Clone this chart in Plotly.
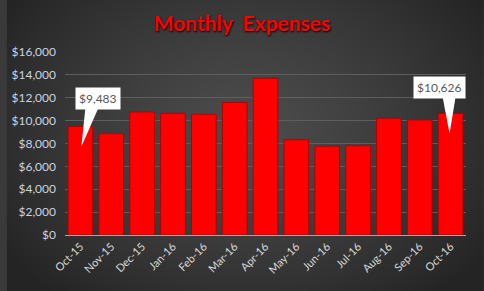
import base64, struct, zlib
import numpy as np
import plotly.graph_objects as go

months = ["Oct-15", "Nov-15", "Dec-15", "Jan-16", "Feb-16", "Mar-16", "Apr-16",
          "May-16", "Jun-16", "Jul-16", "Aug-16", "Sep-16", "Oct-16"]
expenses = [9483, 8850, 10750, 10640, 10560, 11600, 13700,
            8330, 7760, 7800, 10200, 10050, 10626]
y_ticks = [0, 2000, 4000, 6000, 8000, 10000, 12000, 14000, 16000]
y_tick_labels = ["$0", "$2,000", "$4,000", "$6,000", "$8,000", "$10,000",
                 "$12,000", "$14,000", "$16,000"]
y_max = 16000

W, H = 484, 291
L, R, T, B = 59, 18, 52, 56
pw, ph = W - L - R, H - T - B
n = len(months)


def gradient_png(w, h):
    yy, xx = np.mgrid[0:h, 0:w]
    cx, cy = w * 0.5, h * 0.45
    d = np.sqrt(((xx - cx) / (w * 0.62)) ** 2 + ((yy - cy) / (h * 0.75)) ** 2)
    d = np.clip(d, 0, 1)
    v = (76 - (76 - 36) * d ** 1.3).astype(np.uint8)
    img = np.stack([v, v, v], axis=-1)
    raw = b"".join(b"\x00" + img[r].tobytes() for r in range(h))

    def chunk(tag, data):
        c = struct.pack(">I", len(data)) + tag + data
        return c + struct.pack(">I", zlib.crc32(tag + data) & 0xffffffff)

    png = b"\x89PNG\r\n\x1a\n"
    png += chunk(b"IHDR", struct.pack(">IIBBBBB", w, h, 8, 2, 0, 0, 0))
    png += chunk(b"IDAT", zlib.compress(raw, 9))
    png += chunk(b"IEND", b"")
    return "data:image/png;base64," + base64.b64encode(png).decode()


def px_x(i, dpx):
    # paper x of category i centre shifted by dpx pixels
    return (i + 0.5) / n + dpx / pw


def px_y(v, dpx):
    # paper y of value v shifted upward by dpx pixels
    return v / y_max + dpx / ph


fig = go.Figure()
fig.add_trace(go.Bar(
    x=months, y=expenses,
    marker=dict(color="#ff0000", line=dict(color="#b00000", width=1)),
    hoverinfo="x+y",
))

# callouts: (index, tip dy, tip dx, base dx0, base dx1, box dx, box dy, label)
callouts = [
    (0, -20, 1, 5, 18, 18, 28, "$9,483"),
    (n - 1, -20, -1, -8, 5, -11, 26, "$10,626"),
]
shapes = []
annotations = []
for i, tip_dy, tip_dx, b0, b1, box_dx, box_dy, label in callouts:
    v = expenses[i]
    tx, ty = px_x(i, tip_dx), px_y(v, tip_dy)
    base_y = px_y(v, box_dy - 10)
    path = (f"M {tx},{ty} L {px_x(i, b0)},{base_y} "
            f"L {px_x(i, b1)},{base_y} Z")
    shapes.append(dict(type="path", path=path, xref="paper", yref="paper",
                       fillcolor="white", line=dict(width=0), layer="above"))
    annotations.append(dict(
        x=px_x(i, box_dx), y=px_y(v, box_dy), xref="paper", yref="paper",
        text=label, showarrow=False, bgcolor="white", borderpad=3,
        xanchor="center", yanchor="middle",
        font=dict(family="Lato", size=12, color="#595959"),
    ))

fig.update_layout(
    width=W, height=H,
    margin=dict(l=L, r=R, t=T, b=B),
    paper_bgcolor="#3a3a3a",
    plot_bgcolor="rgba(0,0,0,0)",
    bargap=0.2,
    showlegend=False,
    shapes=shapes,
    annotations=annotations,
    title=dict(text="<b>Monthly  Expenses</b>", x=0.5, xanchor="center",
               y=1 - 24 / H, yanchor="middle",
               font=dict(family="Lato", size=21, color="#ff0000",
                         weight="bold", shadow="1px 1px 2px #000000")),
    images=[dict(source=gradient_png(W, H), xref="paper", yref="paper",
                 x=-L / pw, y=1 + T / ph, sizex=W / pw, sizey=H / ph,
                 sizing="stretch", xanchor="left", yanchor="top",
                 layer="below")],
    xaxis=dict(tickangle=-45, tickfont=dict(family="Lato", size=11, color="#d9d9d9"),
               showline=True, linecolor="#a6a6a6", linewidth=1,
               showgrid=False, ticks=""),
    yaxis=dict(range=[0, y_max], tickvals=y_ticks, ticktext=y_tick_labels,
               tickfont=dict(family="Lato", size=12, color="#c9d3e3"),
               showgrid=True, gridcolor="#5e5e5e", gridwidth=1,
               zeroline=False, ticks="", ticklabelstandoff=8),
)

fig.write_html("out.html")
